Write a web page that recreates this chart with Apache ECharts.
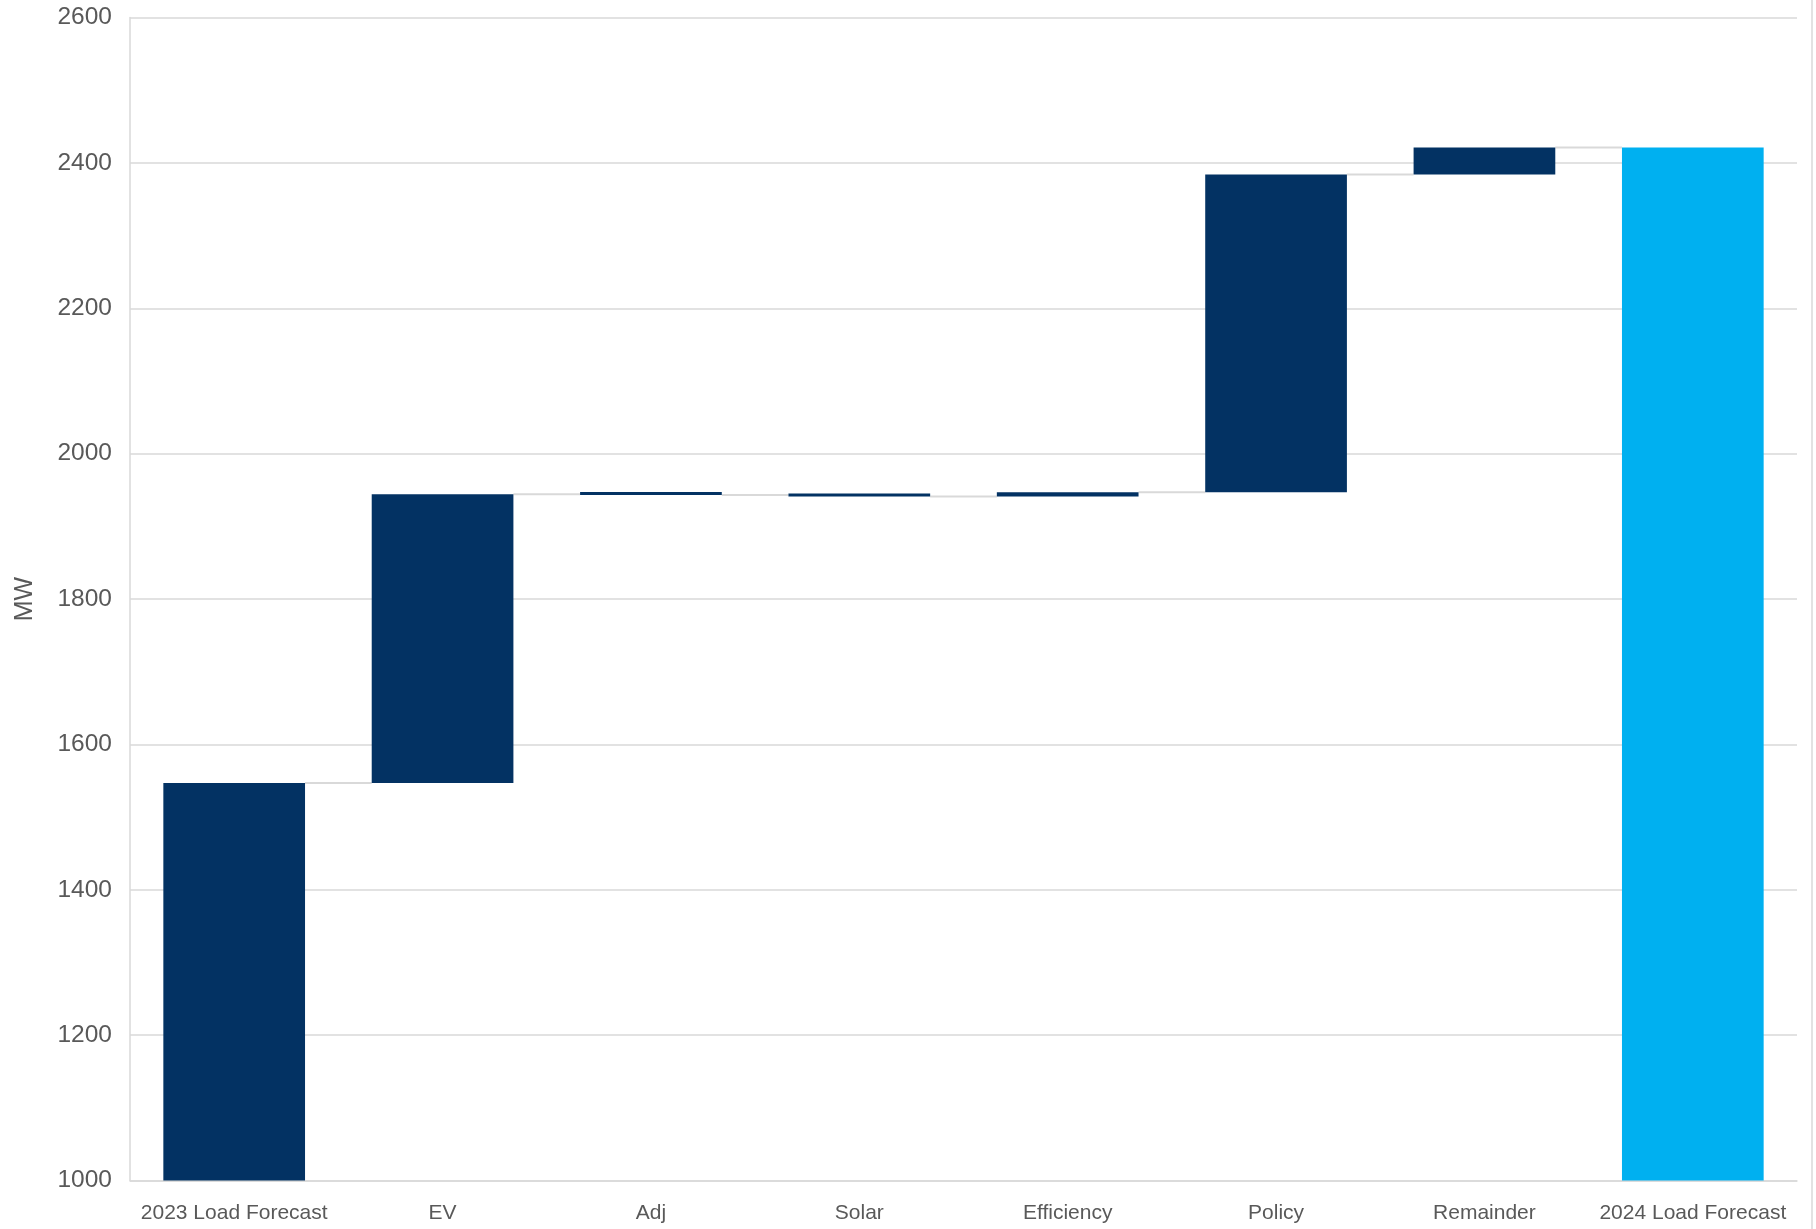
<!DOCTYPE html>
<html>
<head>
<meta charset="utf-8">
<title>Load Forecast Waterfall</title>
<script src="https://cdn.jsdelivr.net/npm/echarts@6/dist/echarts.min.js"></script>
<style>
    html, body { margin: 0; padding: 0; background: #fff; }
    #main { width: 1816px; height: 1229px; }
</style>
</head>
<body>
<div id="main"></div>
<script>
// categories along the x axis
const categories = ['2023 Load Forecast', 'EV', 'Adj', 'Solar', 'Efficiency', 'Policy', 'Remainder', '2024 Load Forecast'];
// first value is the starting total, the rest are changes (MW)
const startTotal = 1547;
const deltas = [397, -1, -2, 6, 437, 37];
const endTotal = 2421;
const yTicks = { min: 1000, max: 2600, interval: 200 };

const navy = '#033263';
const lightBlue = '#00B0F0';
const gridGray = '#D9D9D9';
const textGray = '#595959';

// build waterfall stacks
let base = [0];
let bars = [{ value: startTotal, itemStyle: { color: navy } }];
let levels = [startTotal];
let running = startTotal;
deltas.forEach(function (d) {
    const next = running + d;
    base.push(Math.min(running, next));
    bars.push({ value: Math.abs(d), itemStyle: { color: navy } });
    running = next;
    levels.push(running);
});
base.push(0);
bars.push({ value: endTotal, itemStyle: { color: lightBlue } });

// connector segments: from bar i to bar i+1 at level i
const connectors = levels.map(function (v, i) { return [i, v]; });

var myChart = echarts.init(document.getElementById('main'));
myChart.setOption({
    animation: false,
    textStyle: { fontFamily: 'Liberation Sans, Arial, sans-serif' },
    grid: {
        left: 130,
        right: 19,
        top: 17.5,
        bottom: 48.5
    },
    xAxis: {
        type: 'category',
        data: categories,
        axisLine: { show: true, lineStyle: { color: gridGray, width: 1.5 } },
        axisTick: { show: false },
        axisLabel: { color: textGray, fontSize: 21, margin: 22, interval: 0 },
        splitLine: { show: false }
    },
    yAxis: {
        type: 'value',
        min: yTicks.min,
        max: yTicks.max,
        interval: yTicks.interval,
        name: 'MW',
        nameLocation: 'middle',
        nameRotate: 90,
        nameGap: 92,
        nameTextStyle: { color: textGray, fontSize: 25 },
        axisLine: { show: true, lineStyle: { color: gridGray, width: 1.5 } },
        axisTick: { show: false },
        axisLabel: {
            color: textGray,
            fontSize: 24.5,
            margin: 18,
            formatter: function (v) { return String(v); }
        },
        splitLine: { lineStyle: { color: gridGray, width: 1.5 } }
    },
    graphic: [
        {
            type: 'line',
            shape: { x1: 1812, y1: 0, x2: 1812, y2: 1229 },
            style: { stroke: gridGray, lineWidth: 1.5 }
        }
    ],
    series: [
        {
            name: 'base',
            type: 'bar',
            stack: 'wf',
            barWidth: '68%',
            itemStyle: { color: 'transparent' },
            emphasis: { disabled: true },
            data: base
        },
        {
            name: 'change',
            type: 'bar',
            stack: 'wf',
            barWidth: '68%',
            barMinHeight: 3,
            data: bars
        },
        {
            name: 'connector',
            type: 'custom',
            z: 1,
            renderItem: function (params, api) {
                const p = api.coord([api.value(0), api.value(1)]);
                const w = api.size([1, 0])[0];
                const half = w * 0.34;
                return {
                    type: 'line',
                    shape: { x1: p[0] + half, y1: p[1], x2: p[0] + w - half, y2: p[1] },
                    style: { stroke: gridGray, lineWidth: 2 }
                };
            },
            data: connectors
        }
    ]
});
</script>
</body>
</html>
